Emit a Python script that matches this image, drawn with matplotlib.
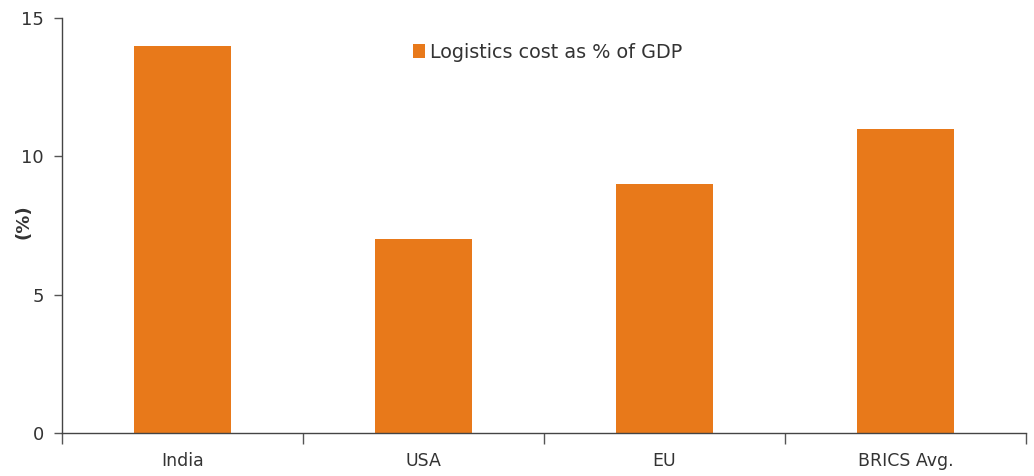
import matplotlib
matplotlib.use("Agg")
import matplotlib.pyplot as plt
import numpy as np

categories = ["India", "USA", "EU", "BRICS Avg."]
values = [14, 7, 9, 11]
series_name = "Logistics cost as % of GDP"
yticks = [0, 5, 10, 15]

plt.rcParams['font.family'] = ['DejaVu Sans']
color = "#E8791A"
textc = "#333333"

fig = plt.figure(figsize=(10.34, 4.76), dpi=100)
ax = fig.add_axes([62/1034, 43/476, (1026-62)/1034, (433-18)/476])

x = np.arange(len(categories))
ax.bar(x, values, width=0.4, color=color, label=series_name)
ax.set_xlim(-0.5, len(categories) - 0.5)
ax.set_ylim(0, 15)
ax.set_yticks(yticks)
ax.set_xticks(x)
ax.set_xticklabels(categories)
ax.set_xticks(np.arange(-0.5, len(categories), 1.0), minor=True)
ax.tick_params(axis='x', which='major', length=0, pad=14, labelsize=12.5, labelcolor=textc)
ax.tick_params(axis='x', which='minor', length=8, width=1, color="#555555", direction='out')
ax.tick_params(axis='y', length=6, width=1, color="#555555", labelsize=13, labelcolor=textc, pad=7)

for s in ['top', 'right']:
    ax.spines[s].set_visible(False)
for s in ['left', 'bottom']:
    ax.spines[s].set_color("#444444")
    ax.spines[s].set_linewidth(1.0)

ax.set_ylabel("(%)", fontweight='bold', fontsize=13, color=textc)
ax.yaxis.set_label_coords(-0.031, 0.508)

leg = ax.legend(loc='center', bbox_to_anchor=(0.504, 0.918), frameon=False,
                fontsize=13.8, handlelength=0.6, handleheight=0.8, handletextpad=0.3)
for t in leg.get_texts():
    t.set_color(textc)

fig.savefig("out.png", dpi=100)
